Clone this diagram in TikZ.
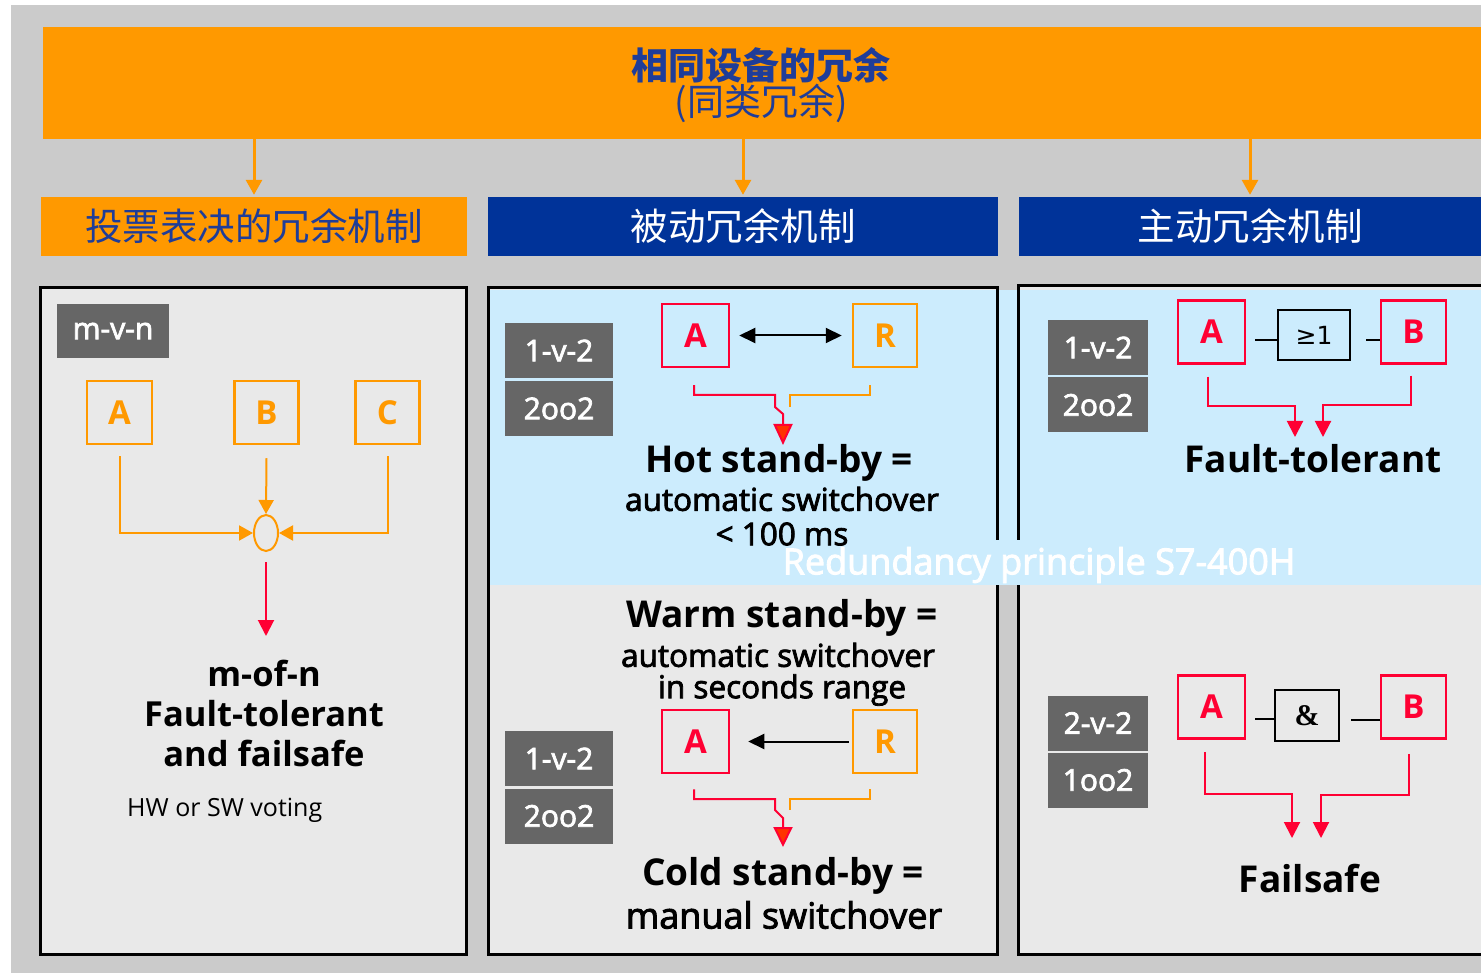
\documentclass[tikz,border=0pt]{standalone}
\usepackage{fontspec}
\setmainfont{Open Sans}
\newfontfamily\medfont{Open Sans}[FakeBold=2.5]
\newfontfamily\dejavu{DejaVu Sans}
\newfontfamily\lserif{Liberation Serif}
\newfontfamily\cjk{Noto Sans CJK SC}
\usetikzlibrary{arrows.meta,calc,shapes.geometric}
\definecolor{bggray}{HTML}{CBCBCB}
\definecolor{orng}{HTML}{FF9900}
\definecolor{hdblue}{HTML}{003399}
\definecolor{ttlblue}{HTML}{1F3D99}
\definecolor{panelgray}{HTML}{E9E9E9}
\definecolor{ltblue}{HTML}{CCECFD}
\definecolor{lblgray}{HTML}{666666}
\definecolor{sred}{HTML}{FF0033}
\definecolor{tipred}{HTML}{FF3300}
\newcommand\myfs[1]{\fontsize{#1}{#1}\selectfont}
\begin{document}
\begin{tikzpicture}[x=1pt,y=-1pt,
  hdr/.style={minimum height=59, inner sep=0, font=\cjk\myfs{37.5}},
  lbl/.style={fill=lblgray, text=white, minimum width=108, minimum height=55, inner sep=0, font=\medfont\myfs{30}},
  rlbl/.style={lbl, minimum width=100},
  redbox/.style={draw=sred, line width=2.5pt, text=sred, minimum width=67, minimum height=63, inner sep=0, font=\bfseries\myfs{33}},
  orbox/.style={draw=orng, line width=2.5pt, text=orng, minimum width=64, minimum height=63, inner sep=0, font=\bfseries\myfs{33}},
  gate/.style={draw=black, line width=2.5pt, minimum height=50, inner sep=0, font=\myfs{26}},
  pborder/.style={draw=black, line width=3pt},
  oline/.style={draw=orng, line width=2pt},
  rline/.style={draw=sred, line width=2pt},
  oarr/.style={draw=orng, line width=2pt, -{Triangle[width=15pt,length=14pt]}},
  rarr/.style={draw=sred, line width=2pt, -{Triangle[width=16pt,length=16pt]}},
  bigtip/.style={-{Triangle[width=19pt,length=21pt,fill=tipred]}},
  btxt/.style={inner sep=0, font=\bfseries\myfs{37}},
  ntxt/.style={inner sep=0, font=\medfont\myfs{31.5}},
]
\useasboundingbox (0,0) rectangle (1481,973);
\fill[bggray] (11,5) rectangle (1481,973);
% top bar
\node[fill=orng, minimum width=1438, minimum height=112, inner sep=0, anchor=north west] (top) at (43,27) {};
\node[inner sep=0, text=ttlblue, font=\cjk\bfseries\myfs{37}] (ttl1) at (761,65) {相同设备的冗余};
\node[inner sep=0, text=ttlblue, font=\cjk\myfs{37}] (ttl2) at (761,103) {(同类冗余)};
% headers
\node[hdr, fill=orng, text=ttlblue, minimum width=426] (hL) at (254,226.5) {投票表决的冗余机制};
\node[hdr, fill=hdblue, text=white, minimum width=510] (hM) at (743,226.5) {被动冗余机制};
\node[hdr, fill=hdblue, text=white, minimum width=462] (hRt) at (1250,226.5) {主动冗余机制};
\draw[oarr, line width=3pt, -{Triangle[width=16pt,length=15pt]}] (top.south -| hL.north) -- ([yshift=2pt]hL.north);
\draw[oarr, line width=3pt, -{Triangle[width=16pt,length=15pt]}] (top.south -| hM.north) -- ([yshift=2pt]hM.north);
\draw[oarr, line width=3pt, -{Triangle[width=16pt,length=15pt]}] (top.south -| hRt.north) -- ([yshift=2pt]hRt.north);
% panels
\fill[panelgray] (40,288) rectangle (466,954);
\fill[panelgray] (488,288) rectangle (997,954);
\fill[panelgray] (1018,286) rectangle (1481,954);
\fill[ltblue] (490,290) rectangle (1481,585);
\draw[pborder] (40,288) rectangle (466,954);
\draw[pborder] (488,288) rectangle (997,954);
\draw[pborder] (1490,286) -- (1018,286) -- (1018,954) -- (1490,954);
\fill[ltblue] (490,540) rectangle (1481,585);
\node[inner sep=0, text=white, font=\medfont\myfs{36}] (s7) at (1039,565) {Redundancy principle S7-400H};
% ---------- left panel ----------
\node[lbl, minimum width=112, minimum height=54] (mvn) at (113,331) {m-v-n};
\node[orbox, minimum width=65] (lA) at (119.5,412.5) {A};
\node[orbox] (lB) at (266.5,412.5) {B};
\node[orbox] (lC) at (387.5,412.5) {C};
\node[draw=orng, line width=2pt, ellipse, minimum width=24, minimum height=36, inner sep=0] (ell) at (266,533) {};
\draw[oarr] ($(lA.south)+(0,11)$) |- (ell.west);
\draw[oarr] ($(lB.south)+(0,13)$) -- (ell.north);
\draw[oarr] ($(lC.south)+(0,11)$) |- (ell.east);
\coordinate (mofnTip) at (266,636);
\draw[rarr] ($(ell.south)+(0,10)$) -- (mofnTip);
\node[inner sep=0, align=center, font=\bfseries\fontsize{34.5}{40}\selectfont] (mofn) at (264,713) {m-of-n\\Fault-tolerant\\and failsafe};
\node[inner sep=0, anchor=west, font=\myfs{25}] (hwsw) at (127,810) {HW or SW voting};
% ---------- middle top ----------
\node[lbl] (h1) at (559,350.5) {1-v-2};
\node[lbl] (h2) at (559,408.5) {2oo2};
\node[redbox] (hA) at (695.5,335.5) {A};
\node[orbox] (hR) at (885,335.5) {R};
\draw[line width=2pt, {Triangle[width=15pt,length=16pt]}-{Triangle[width=15pt,length=16pt]}, shorten <=9pt, shorten >=10pt] (hA.east) -- (hR.west);
\coordinate (hotTip) at (783,445);
\draw[rline, bigtip] ($(hA.south)+(-1.5,17)$) |- ($(hotTip)+(-8,-50)$) -- ($(hotTip)+(-8,-38)$) -- ($(hotTip)+(0,-31)$) -- (hotTip);
\draw[oline] ($(hR.south)+(-15,17)$) |- ($(hotTip)+(7,-50)$) -- ($(hotTip)+(7,-38)$);
\node[btxt] (hot1) at (779,463) {Hot stand-by =};
\node[ntxt] (hot2) at (782,499) {automatic switchover};
\node[ntxt] (hot3) at (782,534) {< 100 ms};
% ---------- middle bottom ----------
\node[btxt] (warm1) at (782,618) {Warm stand-by =};
\node[ntxt] (warm2) at (778,655) {automatic switchover};
\node[ntxt] (warm3) at (782,690) {in seconds range};
\node[lbl] (c1) at (559,758.5) {1-v-2};
\node[lbl] (c2) at (559,816) {2oo2};
\node[redbox] (cA) at (695.5,741.5) {A};
\node[orbox] (cR) at (885,741.5) {R};
\draw[line width=2pt, -{Triangle[width=15pt,length=16pt]}, shorten <=3pt, shorten >=18pt] (cR.west) -- (cA.east);
\coordinate (coldTip) at (783,847);
\draw[rline, -{Triangle[width=19pt,length=20pt,fill=tipred]}] ($(cA.south)+(-1.5,15)$) |- ($(coldTip)+(-8,-48)$) -- ($(coldTip)+(-8,-37)$) -- ($(coldTip)+(0,-29)$) -- (coldTip);
\draw[oline] ($(cR.south)+(-15,15)$) |- ($(coldTip)+(7,-48)$) -- ($(coldTip)+(7,-37)$);
\node[btxt] (cold1) at (783,876) {Cold stand-by =};
\node[ntxt, font=\medfont\myfs{36}] (cold2) at (784,915) {manual switchover};
% ---------- right top ----------
\node[rlbl] (r1) at (1098,347.5) {1-v-2};
\node[rlbl] (r2) at (1098,405) {2oo2};
\node[redbox] (fA) at (1211.5,332) {A};
\node[redbox, minimum width=65] (fB) at (1413.5,332) {B};
\node[gate, minimum width=72, font=\dejavu\myfs{25}] (g1) at (1314,335) {≥1};
\draw[line width=2pt] ($(fA.east)+(9,8)$) -- ($(g1.west)+(0,5)$);
\draw[line width=2pt] ($(g1.east)+(15,5)$) -- ($(fB.west)+(0,8)$);
\coordinate (ftL) at (1295,437);
\coordinate (ftR) at (1323,437);
\draw[rarr] ($(fA.south)+(-3.5,12)$) |- ($(ftL)+(0,-31)$) -- (ftL);
\draw[rarr] ($(fB.south)+(-2.5,11)$) |- ($(ftR)+(0,-32)$) -- (ftR);
\node[btxt] (ft) at (1313,459) {Fault-tolerant};
% ---------- right bottom ----------
\node[rlbl] (s1) at (1098,723) {2-v-2};
\node[rlbl] (s2) at (1098,780) {1oo2};
\node[redbox] (sA) at (1211.5,707) {A};
\node[redbox, minimum width=65] (sB) at (1413.5,707) {B};
\node[gate, minimum width=64, minimum height=51, font=\lserif\bfseries\myfs{30}] (g2) at (1307,715.5) {\&};
\draw[line width=2pt] ($(sA.east)+(9,12)$) -- ($(g2.west)+(0,3.5)$);
\draw[line width=2pt] ($(g2.east)+(11,4.5)$) -- ($(sB.west)+(0,13)$);
\coordinate (fsL) at (1292,838);
\coordinate (fsR) at (1321,838);
\draw[rarr] ($(sA.south)+(-6.5,12)$) |- ($(fsL)+(0,-44)$) -- (fsL);
\draw[rarr] ($(sB.south)+(-4.5,14)$) |- ($(fsR)+(0,-43)$) -- (fsR);
\node[btxt] (fs) at (1310,879) {Failsafe};
\end{tikzpicture}
\end{document}
